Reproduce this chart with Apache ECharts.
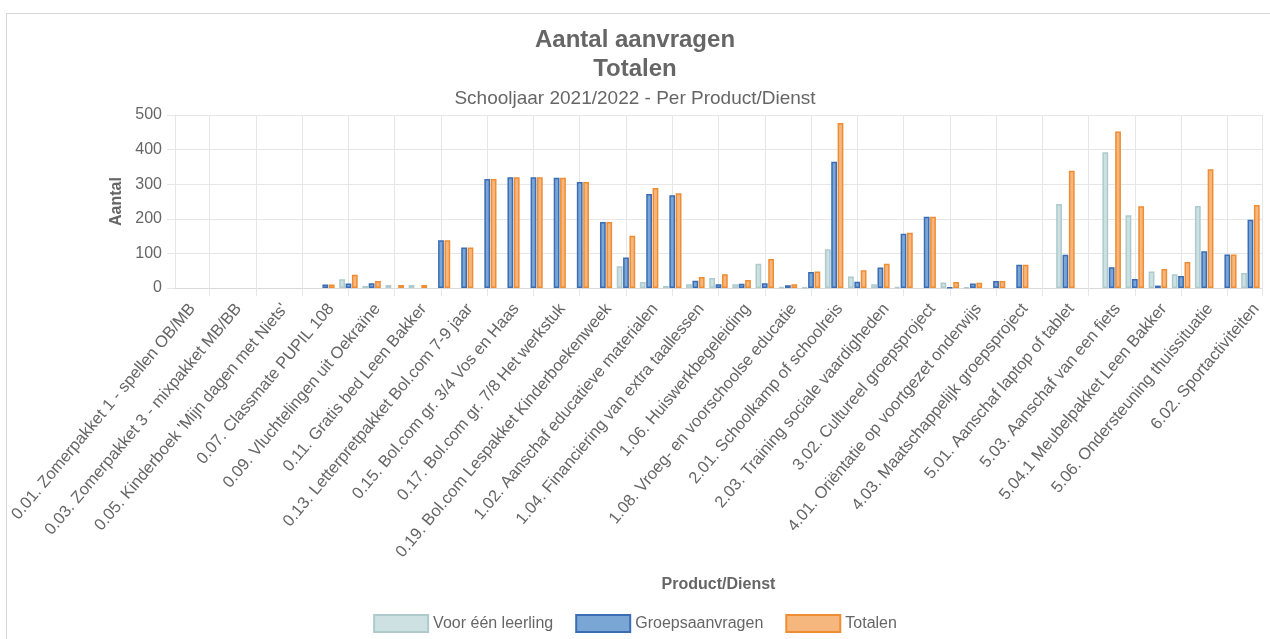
<!DOCTYPE html>
<html lang="nl">
<head>
    <meta charset="UTF-8">
    <title>Aantal aanvragen - Totalen</title>
    <script src="https://cdn.jsdelivr.net/npm/echarts/dist/echarts.min.js"></script>
    <style>
        html, body { margin: 0; padding: 0; background: #fff; overflow: hidden; }
        #frame {
            position: absolute; left: 6px; top: 13px; width: 1300px; height: 700px;
            border-top: 1px solid #d6d6d6; border-left: 1px solid #d6d6d6;
        }
        #main { position: absolute; left: 0; top: 0; width: 1270px; height: 639px; }
    </style>
</head>
<body>
    <div id="frame"></div>
    <div id="main"></div>

    <script>
        // only the even categories get a visible label, like in the original
        var categories = [
            '0.01. Zomerpakket 1 - spellen OB/MB',
            '0.02. Zomerpakket 2 - boeken OB/MB',
            '0.03. Zomerpakket 3 - mixpakket MB/BB',
            '0.04. Zomerpakket 4 - knutselpakket BB',
            "0.05. Kinderboek 'Mijn dagen met Niets'",
            '0.06. Kinderboek Leesplezier',
            '0.07. Classmate PUPIL 108',
            '0.08. Noodfonds',
            '0.09. Vluchtelingen uit Oekraïne',
            '0.10. Schoolspullen',
            '0.11. Gratis bed Leen Bakker',
            '0.12. Letterpretpakket Bol.com 4-6 jaar',
            '0.13. Letterpretpakket Bol.com 7-9 jaar',
            '0.14. Bol.com gr. 1/2',
            '0.15. Bol.com gr. 3/4 Vos en Haas',
            '0.16. Bol.com gr. 5/6',
            '0.17. Bol.com gr. 7/8 Het werkstuk',
            '0.18. Bol.com Leesboeken',
            '0.19. Bol.com Lespakket Kinderboekenweek',
            '1.01. Bijles',
            '1.02. Aanschaf educatieve materialen',
            '1.03. Digitale leermiddelen',
            '1.04. Financiering van extra taallessen',
            '1.05. Remedial teaching',
            '1.06. Huiswerkbegeleiding',
            '1.07. Logopedie',
            '1.08. Vroeg- en voorschoolse educatie',
            '1.09. Overige onderwijsondersteuning',
            '2.01. Schoolkamp of schoolreis',
            '2.02. Excursie',
            '2.03. Training sociale vaardigheden',
            '3.01. Cultureel individueel',
            '3.02. Cultureel groepsproject',
            '3.03. Muziekles',
            '4.01. Oriëntatie op voortgezet onderwijs',
            '4.02. Maatschappelijk individueel',
            '4.03. Maatschappelijk groepsproject',
            '4.04. Stage',
            '5.01. Aanschaf laptop of tablet',
            '5.02. Internetaansluiting',
            '5.03. Aanschaf van een fiets',
            '5.04. Meubels',
            '5.04.1 Meubelpakket Leen Bakker',
            '5.05. Kleding',
            '5.06. Ondersteuning thuissituatie',
            '6.01. Sportkleding',
            '6.02. Sportactiviteiten'
        ];

        var voorEenLeerling = [
            0, 0, 0, 0, 0, 0, 0, 25, 6, 9,
            9, 0, 0, 0, 0, 0, 0, 0, 0, 63,
            17, 6, 11, 29, 11, 70, 3, 2, 112, 33,
            11, 3, 0, 16, 2, 0, 0, 0, 243, 0,
            392, 210, 48, 40, 237, 0, 43
        ];
        var groepsaanvragen = [
            0, 0, 0, 0, 0, 0, 10, 13, 14, 0,
            0, 138, 117, 315, 320, 320, 319, 306, 191, 88,
            272, 268, 21, 11, 12, 14, 8, 46, 365, 18,
            59, 157, 206, 1, 13, 20, 67, 0, 96, 0,
            60, 26, 7, 35, 106, 97, 197
        ];
        var totalen = [
            0, 0, 0, 0, 0, 0, 10, 38, 20, 9,
            9, 138, 117, 315, 320, 320, 319, 306, 191, 151,
            289, 274, 32, 40, 23, 84, 11, 48, 477, 51,
            70, 160, 206, 17, 15, 20, 67, 0, 339, 0,
            452, 236, 55, 75, 343, 97, 240
        ];
        var yTicks = [0, 100, 200, 300, 400, 500];

        var FONT = "'Liberation Sans', Arial, sans-serif";
        var GRID_COLOR = '#e6e6e6';

        // helper axis with two slots per category: labels sit a bit right of the
        // bar centre and the grid lines fall on every other category
        var halfCategories = categories.flatMap(function (c) { return [c, c]; });
        function labelSlot(i) { return i % 4 === 1; }
        function lineSlot(i) { return i % 4 === 3; }

        function bars(name, values, fill, border) {
            return {
                name: name,
                type: 'bar',
                xAxisIndex: 0,
                data: values.map(function (v) { return v === 0 ? '-' : v; }),
                barCategoryGap: '20%',
                barGap: '10%',
                itemStyle: { color: fill, borderColor: border, borderWidth: 1.5 }
            };
        }

        var chart = echarts.init(document.getElementById('main'));

        chart.setOption({
            animation: false,
            textStyle: { fontFamily: FONT },
            title: {
                text: 'Aantal aanvragen\nTotalen',
                subtext: 'Schooljaar 2021/2022 - Per Product/Dienst',
                left: 'center',
                top: 21,
                itemGap: 4,
                textStyle: { fontFamily: FONT, fontSize: 24, fontWeight: 'bold', color: '#666', lineHeight: 29 },
                subtextStyle: { fontFamily: FONT, fontSize: 19, color: '#666', lineHeight: 22 }
            },
            legend: {
                data: ['Voor één leerling', 'Groepsaanvragen', 'Totalen'],
                left: 'center',
                top: 609,
                icon: 'rect',
                itemWidth: 54,
                itemHeight: 17,
                itemGap: 22,
                textStyle: { fontFamily: FONT, fontSize: 16, color: '#666' }
            },
            grid: { left: 175, right: 8, top: 115, bottom: 351 },
            xAxis: [{
                type: 'category',
                data: categories,
                show: false
            }, {
                type: 'category',
                data: halfCategories,
                position: 'bottom',
                name: 'Product/Dienst',
                nameLocation: 'middle',
                nameGap: 289,
                nameTextStyle: { fontFamily: FONT, fontSize: 16, fontWeight: 'bold', color: '#666' },
                axisLine: { lineStyle: { color: '#d9d9d9' } },
                axisTick: { show: true, interval: lineSlot, length: 8, lineStyle: { color: GRID_COLOR } },
                splitLine: { show: true, interval: lineSlot, lineStyle: { color: GRID_COLOR } },
                axisLabel: {
                    interval: labelSlot,
                    rotate: 50,
                    margin: 18,
                    fontFamily: FONT,
                    fontSize: 16.5,
                    color: '#666'
                }
            }],
            yAxis: {
                type: 'value',
                min: yTicks[0],
                max: yTicks[yTicks.length - 1],
                interval: yTicks[1] - yTicks[0],
                name: 'Aantal',
                nameLocation: 'middle',
                nameGap: 49,
                nameTextStyle: { fontFamily: FONT, fontSize: 16, fontWeight: 'bold', color: '#666' },
                axisLine: { show: true, lineStyle: { color: GRID_COLOR } },
                axisTick: { show: true, length: 8, lineStyle: { color: GRID_COLOR } },
                splitLine: { lineStyle: { color: GRID_COLOR } },
                axisLabel: { margin: 13, fontFamily: FONT, fontSize: 16, color: '#666' }
            },
            series: [
                bars('Voor één leerling', voorEenLeerling, '#cde1e2', '#aecacd'),
                bars('Groepsaanvragen', groepsaanvragen, '#7aa6d6', '#3a6db3'),
                bars('Totalen', totalen, '#f6b77f', '#f08d33')
            ]
        });
    </script>
</body>
</html>
